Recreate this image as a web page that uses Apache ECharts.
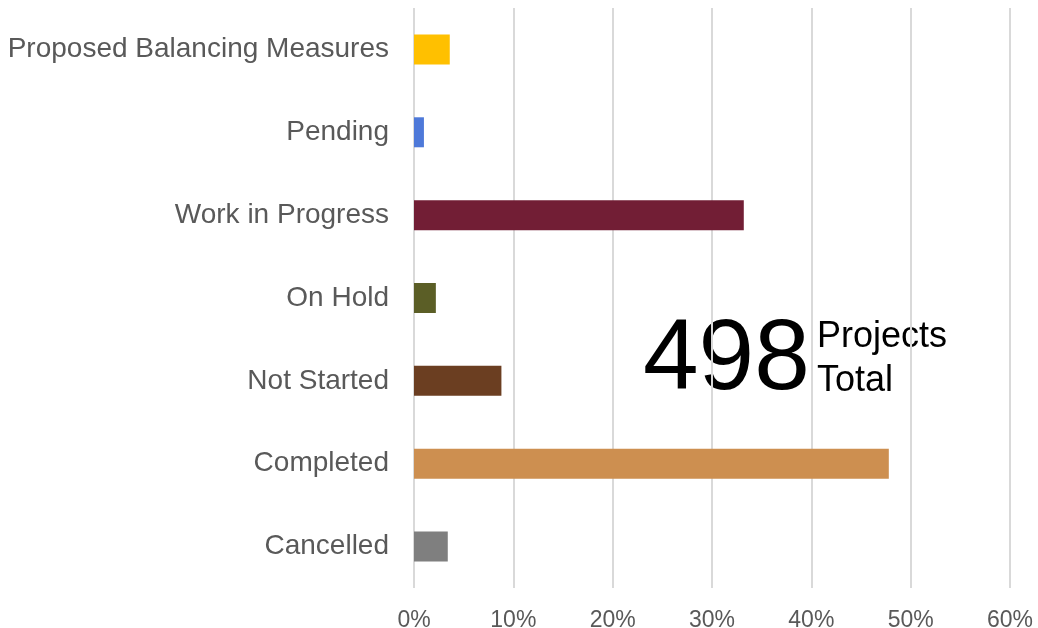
<!DOCTYPE html>
<html>
<head>
<meta charset="utf-8">
<script src="https://cdn.jsdelivr.net/npm/echarts@6/dist/echarts.min.js"></script>
<style>
html,body{margin:0;padding:0;background:#fff;}
#chart{width:1038px;height:628px;}
</style>
</head>
<body>
<div id="chart"></div>
<script>
const categories = ['Cancelled', 'Completed', 'Not Started', 'On Hold', 'Work in Progress', 'Pending', 'Proposed Balancing Measures'];
const values = [3.4, 47.8, 8.8, 2.2, 33.2, 1.0, 3.6];
const barColors = ['#7F7F7F', '#CD8F50', '#6B3E21', '#5B5E26', '#721E35', '#4E79D9', '#FFC000'];
const xTicks = [0, 10, 20, 30, 40, 50, 60];
const totalProjects = '498';
const totalLabelLines = ['Projects', 'Total'];

const FONT = '"Liberation Sans", Arial, sans-serif';
const chart = echarts.init(document.getElementById('chart'), null, {renderer: 'canvas'});
chart.setOption({
  animation: false,
  backgroundColor: '#ffffff',
  grid: {left: 414, right: 28, top: 8, bottom: 40, containLabel: false, outerBoundsMode: 'none'},
  xAxis: {
    type: 'value',
    min: xTicks[0],
    max: xTicks[xTicks.length - 1],
    interval: 10,
    axisLine: {show: false},
    axisTick: {show: false},
    splitLine: {show: true, lineStyle: {color: '#D9D9D9', width: 2}},
    axisLabel: {
      formatter: v => v + '%',
      color: '#595959',
      fontSize: 23,
      fontFamily: FONT,
      margin: 21
    }
  },
  yAxis: {
    type: 'category',
    data: categories,
    axisLine: {show: false},
    axisTick: {show: false},
    splitLine: {show: false},
    axisLabel: {
      color: '#595959',
      fontSize: 28,
      fontFamily: FONT,
      margin: 25,
      padding: [7, 0, 0, 0]
    }
  },
  series: [{
    type: 'bar',
    barWidth: 30,
    data: values.map((v, i) => ({value: v, itemStyle: {color: barColors[i]}}))
  }],
  graphic: [
    {
      type: 'text',
      x: 643, y: 361,
      style: {text: totalProjects, x: 0, y: 0, fill: '#000', fontSize: 100, fontFamily: FONT, textAlign: 'left', textVerticalAlign: 'middle'}
    },
    {
      type: 'text',
      x: 817, y: 337,
      style: {text: totalLabelLines[0], fill: '#000', fontSize: 36, fontFamily: FONT, textAlign: 'left', textVerticalAlign: 'middle'}
    },
    {
      type: 'text',
      x: 817, y: 381,
      style: {text: totalLabelLines[1], fill: '#000', fontSize: 36, fontFamily: FONT, textAlign: 'left', textVerticalAlign: 'middle'}
    }
  ]
});
</script>
</body>
</html>
